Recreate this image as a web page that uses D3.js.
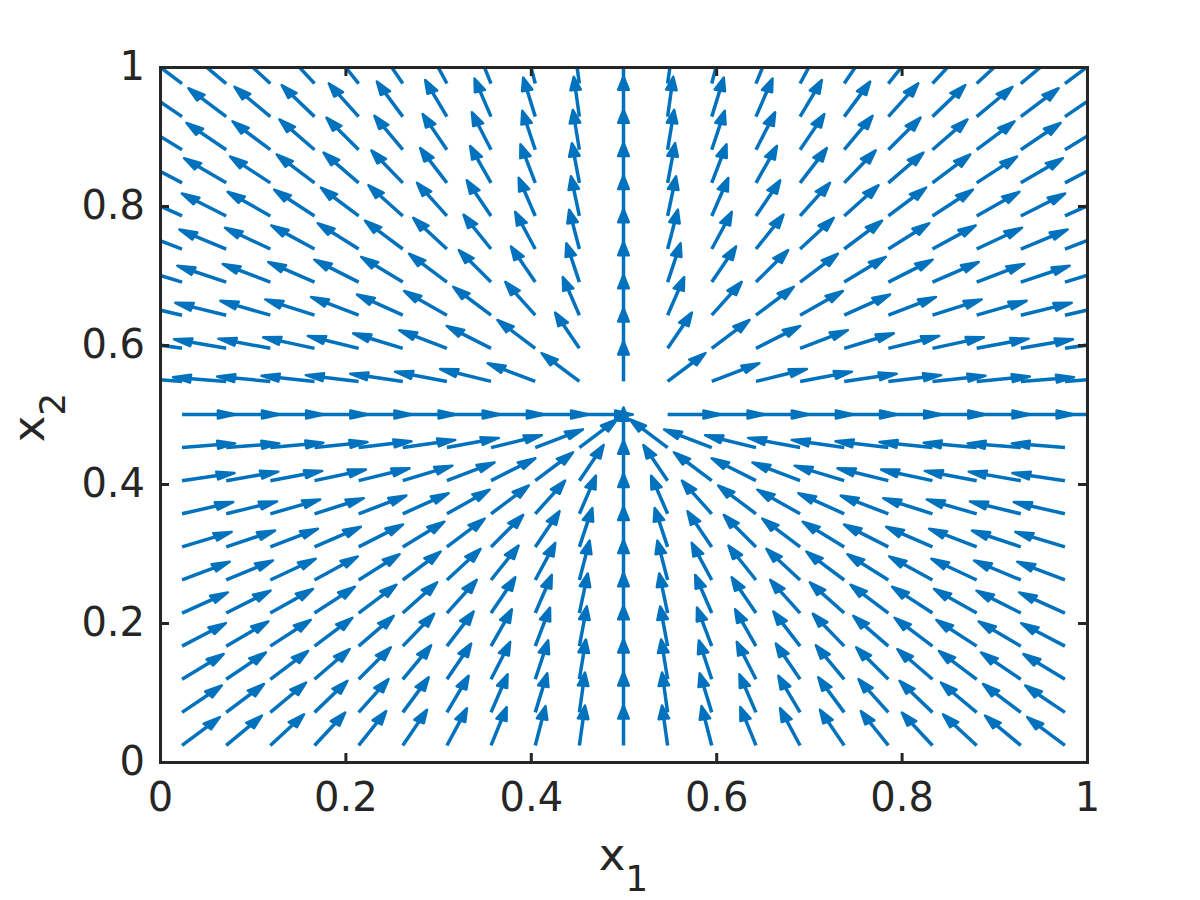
<!DOCTYPE html>
<html>
<head>
<meta charset="utf-8">
<script src="https://cdn.jsdelivr.net/npm/d3@7/dist/d3.min.js"></script>
<style>
body { margin: 0; background: #fff; }
</style>
</head>
<body>
<script>
// sample points of the field (cell centres of a 21 x 21 grid)
var x1Grid = [0.0238, 0.0714, 0.1190, 0.1667, 0.2143, 0.2619, 0.3095, 0.3571, 0.4048, 0.4524, 0.5,
              0.5476, 0.5952, 0.6429, 0.6905, 0.7381, 0.7857, 0.8333, 0.8810, 0.9286, 0.9762];
var x2Grid = [0.0238, 0.0714, 0.1190, 0.1667, 0.2143, 0.2619, 0.3095, 0.3571, 0.4048, 0.4524, 0.5,
              0.5476, 0.5952, 0.6429, 0.6905, 0.7381, 0.7857, 0.8333, 0.8810, 0.9286, 0.9762];

// arrow direction in degrees, one row per x2 value (bottom row first), null = no arrow
var arrowAngles = [
  [45, 48, 51, 55, 59, 63, 68, 73, 79, 84, 90, 96, 101, 107, 112, 117, 121, 125, 129, 132, 135],
  [42, 45, 48, 52, 56, 61, 66, 72, 77, 84, 90, 96, 103, 108, 114, 119, 124, 128, 132, 135, 138],
  [39, 42, 45, 49, 53, 58, 63, 69, 76, 83, 90, 97, 104, 111, 117, 122, 127, 131, 135, 138, 141],
  [35, 38, 41, 45, 49, 54, 60, 67, 74, 82, 90, 98, 106, 113, 120, 126, 131, 135, 139, 142, 145],
  [31, 34, 37, 41, 45, 50, 56, 63, 72, 81, 90, 99, 108, 117, 124, 130, 135, 139, 143, 146, 149],
  [27, 29, 32, 36, 40, 45, 51, 59, 68, 79, 90, 101, 112, 121, 129, 135, 140, 144, 148, 151, 153],
  [22, 24, 27, 30, 34, 39, 45, 53, 63, 76, 90, 104, 117, 127, 135, 141, 146, 150, 153, 156, 158],
  [17, 18, 21, 23, 27, 31, 37, 45, 56, 72, 90, 108, 124, 135, 143, 149, 153, 157, 159, 162, 163],
  [11, 13, 14, 16, 18, 22, 27, 34, 45, 63, 90, 117, 135, 146, 153, 158, 162, 164, 166, 167, 169],
  [6, 6, 7, 8, 9, 11, 14, 18, 27, 45, 90, 135, 153, 162, 166, 169, 171, 172, 173, 174, 174],
  [0, 0, 0, 0, 0, 0, 0, 0, 0, 0, null, 0, 0, 0, 0, 0, 0, 0, 0, 0, 0],
  [174, 174, 173, 172, 171, 169, 166, 162, 153, 135, 90, 45, 27, 18, 14, 11, 9, 8, 7, 6, 6],
  [169, 167, 166, 164, 162, 158, 153, 146, 135, 117, 90, 63, 45, 34, 27, 22, 18, 16, 14, 13, 11],
  [163, 162, 159, 157, 153, 149, 143, 135, 124, 108, 90, 72, 56, 45, 37, 31, 27, 23, 21, 18, 17],
  [158, 156, 153, 150, 146, 141, 135, 127, 117, 104, 90, 76, 63, 53, 45, 39, 34, 30, 27, 24, 22],
  [153, 151, 148, 144, 140, 135, 129, 121, 112, 101, 90, 79, 68, 59, 51, 45, 40, 36, 32, 29, 27],
  [149, 146, 143, 139, 135, 130, 124, 117, 108, 99, 90, 81, 72, 63, 56, 50, 45, 41, 37, 34, 31],
  [145, 142, 139, 135, 131, 126, 120, 113, 106, 98, 90, 82, 74, 67, 60, 54, 49, 45, 41, 38, 35],
  [141, 138, 135, 131, 127, 122, 117, 111, 104, 97, 90, 83, 76, 69, 63, 58, 53, 49, 45, 42, 39],
  [138, 135, 132, 128, 124, 119, 114, 108, 103, 96, 90, 84, 77, 72, 66, 61, 56, 52, 48, 45, 42],
  [135, 132, 129, 125, 121, 117, 112, 107, 101, 96, 90, 84, 79, 73, 68, 63, 59, 55, 51, 48, 45]
];

// arrow length after quiver autoscaling, in data units
var arrowLength = 0.0577;

var tickValues = [0, 0.2, 0.4, 0.6, 0.8, 1];
var tickLabels = ['0', '0.2', '0.4', '0.6', '0.8', '1'];

var width = 1200, height = 900;
var margin = {top: 67, right: 113, bottom: 138, left: 160};
var plotW = width - margin.left - margin.right;
var plotH = height - margin.top - margin.bottom;

var arrowColor = '#0072bd';
var axisColor = '#262626';
var headAlpha = 0.33, headBeta = 0.3;

var xScale = d3.scaleLinear().domain([0, 1]).range([0, plotW]);
var yScale = d3.scaleLinear().domain([0, 1]).range([plotH, 0]);

var svg = d3.select('body')
	.append('svg')
	.attr('width', width)
	.attr('height', height)
	.style('font-family', '"DejaVu Sans", sans-serif');

var plot = svg.append('g')
	.attr('transform', 'translate(' + margin.left + ',' + margin.top + ')');

plot.append('clipPath')
	.attr('id', 'plotClip')
	.append('rect')
	.attr('width', plotW)
	.attr('height', plotH);

// build one record per arrow
var arrows = [];
x2Grid.forEach(function(y, r) {
	x1Grid.forEach(function(x, c) {
		var a = arrowAngles[r][c];
		if (a === null) return;
		var rad = a * Math.PI / 180;
		arrows.push({x: x, y: y, u: arrowLength * Math.cos(rad), v: arrowLength * Math.sin(rad)});
	});
});

var arrowLayer = plot.append('g').attr('clip-path', 'url(#plotClip)');

arrowLayer.selectAll('line.shaft')
	.data(arrows)
	.enter()
	.append('line')
	.attr('class', 'shaft')
	.attr('x1', function(d) { return xScale(d.x); })
	.attr('y1', function(d) { return yScale(d.y); })
	.attr('x2', function(d) { return xScale(d.x + d.u * (1 - headAlpha * 0.5)); })
	.attr('y2', function(d) { return yScale(d.y + d.v * (1 - headAlpha * 0.5)); })
	.attr('stroke', arrowColor)
	.attr('stroke-width', 3.5);

var headPath = function(d) {
	var tx = d.x + d.u, ty = d.y + d.v;
	var bx = tx - headAlpha * d.u, by = ty - headAlpha * d.v;
	var px = -headAlpha * headBeta * d.v, py = headAlpha * headBeta * d.u;
	return 'M' + xScale(bx + px) + ',' + yScale(by + py) +
		'L' + xScale(tx) + ',' + yScale(ty) +
		'L' + xScale(bx - px) + ',' + yScale(by - py) + 'Z';
};

arrowLayer.selectAll('path.head')
	.data(arrows)
	.enter()
	.append('path')
	.attr('class', 'head')
	.attr('d', headPath)
	.attr('fill', arrowColor)
	.attr('stroke', arrowColor)
	.attr('stroke-width', 2.5)
	.attr('stroke-linejoin', 'round');

// axes: labels on bottom/left, inward ticks on all four sides
var fmt = function(d, i) { return tickLabels[i]; };

var xAxis = plot.append('g')
	.attr('transform', 'translate(0,' + plotH + ')')
	.call(d3.axisBottom(xScale).tickValues(tickValues).tickFormat(fmt).tickSizeInner(-9).tickSizeOuter(0).tickPadding(21));
var yAxis = plot.append('g')
	.call(d3.axisLeft(yScale).tickValues(tickValues).tickFormat(fmt).tickSizeInner(-9).tickSizeOuter(0).tickPadding(15));
var xTop = plot.append('g')
	.call(d3.axisTop(xScale).tickValues(tickValues).tickFormat('').tickSizeInner(-9).tickSizeOuter(0));
var yRight = plot.append('g')
	.attr('transform', 'translate(' + plotW + ',0)')
	.call(d3.axisRight(yScale).tickValues(tickValues).tickFormat('').tickSizeInner(-9).tickSizeOuter(0));

[xAxis, yAxis, xTop, yRight].forEach(function(g) {
	g.select('.domain').attr('stroke', axisColor).attr('stroke-width', 3).attr('stroke-linecap', 'square');
	g.selectAll('.tick line').attr('stroke', axisColor).attr('stroke-width', 3);
	g.selectAll('.tick text').attr('fill', axisColor).style('font-size', '40px').style('font-family', '"DejaVu Sans", sans-serif');
});

// axis labels with subscripts
var xLabel = svg.append('text')
	.attr('x', margin.left + plotW / 2)
	.attr('y', 870)
	.attr('text-anchor', 'middle')
	.attr('fill', axisColor)
	.style('font-size', '45px');
xLabel.append('tspan').text('x');
xLabel.append('tspan').attr('dy', 21).style('font-size', '36px').text('1');

var yLabel = svg.append('text')
	.attr('transform', 'translate(43.5,' + (margin.top + plotH / 2 + 3) + ') rotate(-90)')
	.attr('text-anchor', 'middle')
	.attr('fill', axisColor)
	.style('font-size', '45px');
yLabel.append('tspan').text('x');
yLabel.append('tspan').attr('dy', 21).style('font-size', '36px').text('2');
</script>
</body>
</html>
